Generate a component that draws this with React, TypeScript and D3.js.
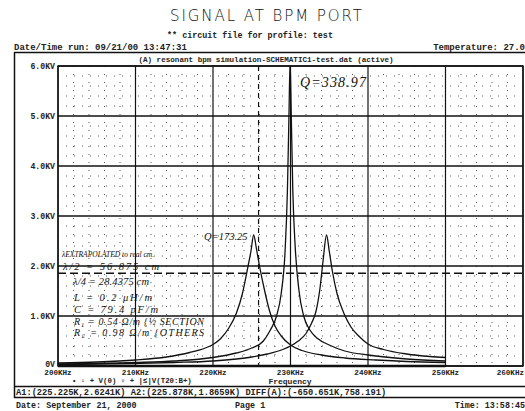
import React from "react";
import * as d3 from "d3";

// ---- data (kHz, kV) ----
const lowFreq = [200, 205, 210, 214, 217, 219, 220, 221, 222, 223, 223.8, 224.4, 224.9, 225.25, 225.6, 226.0, 226.6, 227.3, 228.0, 228.8, 230, 231.5, 234, 237, 241, 245, 250];
const lowVolt = [0.06, 0.08, 0.12, 0.18, 0.27, 0.36, 0.43, 0.55, 0.75, 1.05, 1.45, 1.9, 2.3, 2.62, 2.35, 2.0, 1.55, 1.1, 0.8, 0.6, 0.42, 0.31, 0.22, 0.16, 0.12, 0.09, 0.07];

const midFreq = [200, 210, 215, 220, 223, 225, 226.5, 227.4, 228.2, 228.8, 229.3, 229.6, 229.8, 229.95, 230.1, 230.3, 230.6, 231.1, 231.7, 232.5, 233.5, 235, 237, 240, 245, 250];
const midVolt = [0.04, 0.07, 0.1, 0.17, 0.26, 0.36, 0.5, 0.72, 1.0, 1.45, 2.3, 3.5, 5.0, 6.1, 5.0, 3.5, 2.4, 1.5, 1.0, 0.72, 0.55, 0.42, 0.3, 0.22, 0.14, 0.1];

const highFreq = [200, 210, 215, 220, 223, 225, 227, 229, 230, 231, 232, 232.7, 233.3, 233.8, 234.2, 234.65, 235.0, 235.4, 236.0, 236.9, 237.8, 238.8, 240, 242, 245, 248, 250];
const highVolt = [0.03, 0.05, 0.07, 0.1, 0.14, 0.18, 0.24, 0.33, 0.4, 0.5, 0.65, 0.85, 1.1, 1.55, 2.1, 2.62, 2.3, 1.9, 1.45, 1.05, 0.78, 0.6, 0.44, 0.33, 0.24, 0.19, 0.17];

const zeroFreq = [200, 250];
const zeroVolt = [0, 0];

const xTicks = [200, 210, 220, 230, 240, 250, 260];
const xTickLabels = ["200KHz", "210KHz", "220KHz", "230KHz", "240KHz", "250KHz", "260KHz"];
const yTicks = [0, 1, 2, 3, 4, 5, 6];
const yTickLabels = ["0V", "1.0KV", "2.0KV", "3.0KV", "4.0KV", "5.0KV", "6.0KV"];

const halfPowerLevel = 1.8555; // kV, dashed level line
const cursorFreq = 225.878; // kHz

const notes = [
  "λEXTRAPOLATED to real cm.",
  "λ/2 = 56.875 cm",
  "λ/4 = 28.4375 cm",
  "L = 0.2 μH/m",
  "C = 79.4 pF/m",
  "R₁ = 0.54 Ω/m {½ SECTION",
  "R₂ = 0.98 Ω/m {OTHERS",
];

export default function App() {
  const W = 525, H = 411;
  const L = 58, R = 523, T = 66, B = 366;
  const x = d3.scaleLinear().domain([200, 260]).range([L, R]);
  const y = d3.scaleLinear().domain([0, 6]).range([B, T]);
  const mk = (fs: number[], vs: number[]) =>
    d3.line<number>().x((_, i) => x(fs[i])).y((v) => y(v)).curve(d3.curveMonotoneX)(vs) || "";

  const minorX = d3.range(200, 260.01, 2).filter((v) => v % 10 !== 0);
  const minorY = d3.range(0, 6.01, 0.2).filter((v) => Math.abs(v - Math.round(v)) > 0.01);

  const mono = "'Liberation Mono', 'DejaVu Sans Mono', monospace";
  const hand = "'Liberation Serif', serif";

  const noteY = [257, 270, 285, 301, 313, 325, 336];
  const noteX = [62, 63, 73, 74, 74, 74, 74];
  const noteSize = [7.5, 10.5, 10.5, 10.5, 10.5, 10, 10];
  const noteLen = [92, 96, 76, 78, 84, 130, 130];

  return (
    <svg width={W} height={H} style={{ position: "absolute", left: 0, top: 0, background: "#fff" }}>
      <rect x={0} y={0} width={W} height={H} fill="#fff" />
      {/* handwritten title */}
      <text x={266} y={21} textAnchor="middle" fontFamily="'DejaVu Sans', sans-serif" fontWeight={200} fontSize={15} textLength={192} fill="#111">
        SIGNAL AT BPM PORT
      </text>
      <text x={250} y={38} textAnchor="middle" fontFamily={mono} fontSize={8.4} fontWeight="bold" fill="#222">
        ** circuit file for profile: test
      </text>
      <text x={14} y={50} fontFamily={mono} fontSize={9} fontWeight="bold" fill="#222">
        Date/Time run: 09/21/00 13:47:31
      </text>
      <text x={525} y={50} textAnchor="end" fontFamily={mono} fontSize={9} fontWeight="bold" fill="#222">
        Temperature: 27.0
      </text>
      {/* outer frame */}
      <line x1={14} y1={52.5} x2={525} y2={52.5} stroke="#111" strokeWidth={1.5} />
      <line x1={14.5} y1={52} x2={14.5} y2={398} stroke="#111" strokeWidth={1.5} />
      <text x={266} y={62} textAnchor="middle" fontFamily={mono} fontSize={7.6} fontWeight="bold" fill="#222">
        (A) resonant bpm simulation-SCHEMATIC1-test.dat (active)
      </text>

      {/* minor grid */}
      <g stroke="#555" strokeWidth={1} strokeDasharray="1,7">
        {minorX.map((v) => (
          <line key={"mx" + v} x1={x(v)} x2={x(v)} y1={T} y2={B} />
        ))}
        {minorY.map((v) => (
          <line key={"my" + v} x1={L} x2={R} y1={y(v)} y2={y(v)} />
        ))}
      </g>
      {/* major grid */}
      <g stroke="#111" strokeWidth={1.2}>
        {xTicks.map((v) => (
          <line key={"gx" + v} x1={x(v)} x2={x(v)} y1={T} y2={B} />
        ))}
        {yTicks.map((v) => (
          <line key={"gy" + v} x1={L} x2={R} y1={y(v)} y2={y(v)} strokeWidth={1.5} />
        ))}
      </g>
      <rect x={L} y={T} width={R - L} height={B - T} fill="none" stroke="#111" strokeWidth={1.4} />

      {/* cursor + level lines */}
      <line x1={L} x2={R} y1={y(halfPowerLevel)} y2={y(halfPowerLevel)} stroke="#111" strokeWidth={1.5} strokeDasharray="8,4" />
      <line x1={x(cursorFreq)} x2={x(cursorFreq)} y1={T} y2={B} stroke="#111" strokeWidth={1.2} strokeDasharray="5,4" />

      {/* traces */}
      <defs>
        <clipPath id="plotclip">
          <rect x={L} y={T} width={R - L} height={B - T + 2} />
        </clipPath>
      </defs>
      <g clipPath="url(#plotclip)" fill="none" stroke="#111" strokeWidth={1.3}>
        <path d={mk(lowFreq, lowVolt)} />
        <path d={mk(midFreq, midVolt)} />
        <path d={mk(highFreq, highVolt)} />
        <path d={mk(zeroFreq, zeroVolt)} strokeWidth={2.5} />
      </g>

      {/* y tick labels */}
      {yTicks.map((v, i) => (
        <text key={"yl" + v} x={55} y={y(v) + (v === 0 ? 1 : 3)} textAnchor="end" fontFamily={mono} fontSize={8.2} fontWeight="bold" fill="#222">
          {yTickLabels[i]}
        </text>
      ))}
      {/* x tick labels */}
      {xTicks.map((v, i) => (
        <text key={"xl" + v} x={i === xTicks.length - 1 ? 524 : x(v)} y={375} textAnchor={i === xTicks.length - 1 ? "end" : "middle"} fontFamily={mono} fontSize={7.6} fontWeight="bold" fill="#222">
          {xTickLabels[i]}
        </text>
      ))}
      <text x={72} y={383} fontFamily={mono} fontSize={7.4} fontWeight="bold" fill="#222">
        • ▫ + V(0)  ▿ + |≤|V(T20:B+)
      </text>
      <text x={290} y={384} textAnchor="middle" fontFamily={mono} fontSize={8} fontWeight="bold" fill="#222">
        Frequency
      </text>
      <line x1={14} y1={386.5} x2={525} y2={386.5} stroke="#111" strokeWidth={1.3} />
      <text x={16} y={395} fontFamily={mono} fontSize={8.7} fontWeight="bold" fill="#222">
        A1:(225.225K,2.6241K)  A2:(225.878K,1.8659K)  DIFF(A):(-650.651K,758.191)
      </text>
      <line x1={14} y1={397.5} x2={525} y2={397.5} stroke="#111" strokeWidth={1.3} />
      <text x={16} y={408} fontFamily={mono} fontSize={8.4} fontWeight="bold" fill="#222">
        Date: September 21, 2000
      </text>
      <text x={235} y={408} fontFamily={mono} fontSize={8.4} fontWeight="bold" fill="#222">
        Page 1
      </text>
      <text x={525} y={408} textAnchor="end" fontFamily={mono} fontSize={8.4} fontWeight="bold" fill="#222">
        Time: 13:58:45
      </text>

      {/* handwritten annotations */}
      <text x={300} y={87} fontFamily={hand} fontStyle="italic" fontSize={14} textLength={66} fill="#111">
        Q=338.97
      </text>
      <text x={204} y={240} fontFamily={hand} fontStyle="italic" fontSize={10.5} fill="#111">
        Q=173.25
      </text>
      {notes.map((t, i) => (
        <text key={"n" + i} x={noteX[i]} y={noteY[i]} fontFamily={hand} fontStyle="italic" fontSize={noteSize[i]} textLength={noteLen[i]} fill="#111">
          {t}
        </text>
      ))}
    </svg>
  );
}
